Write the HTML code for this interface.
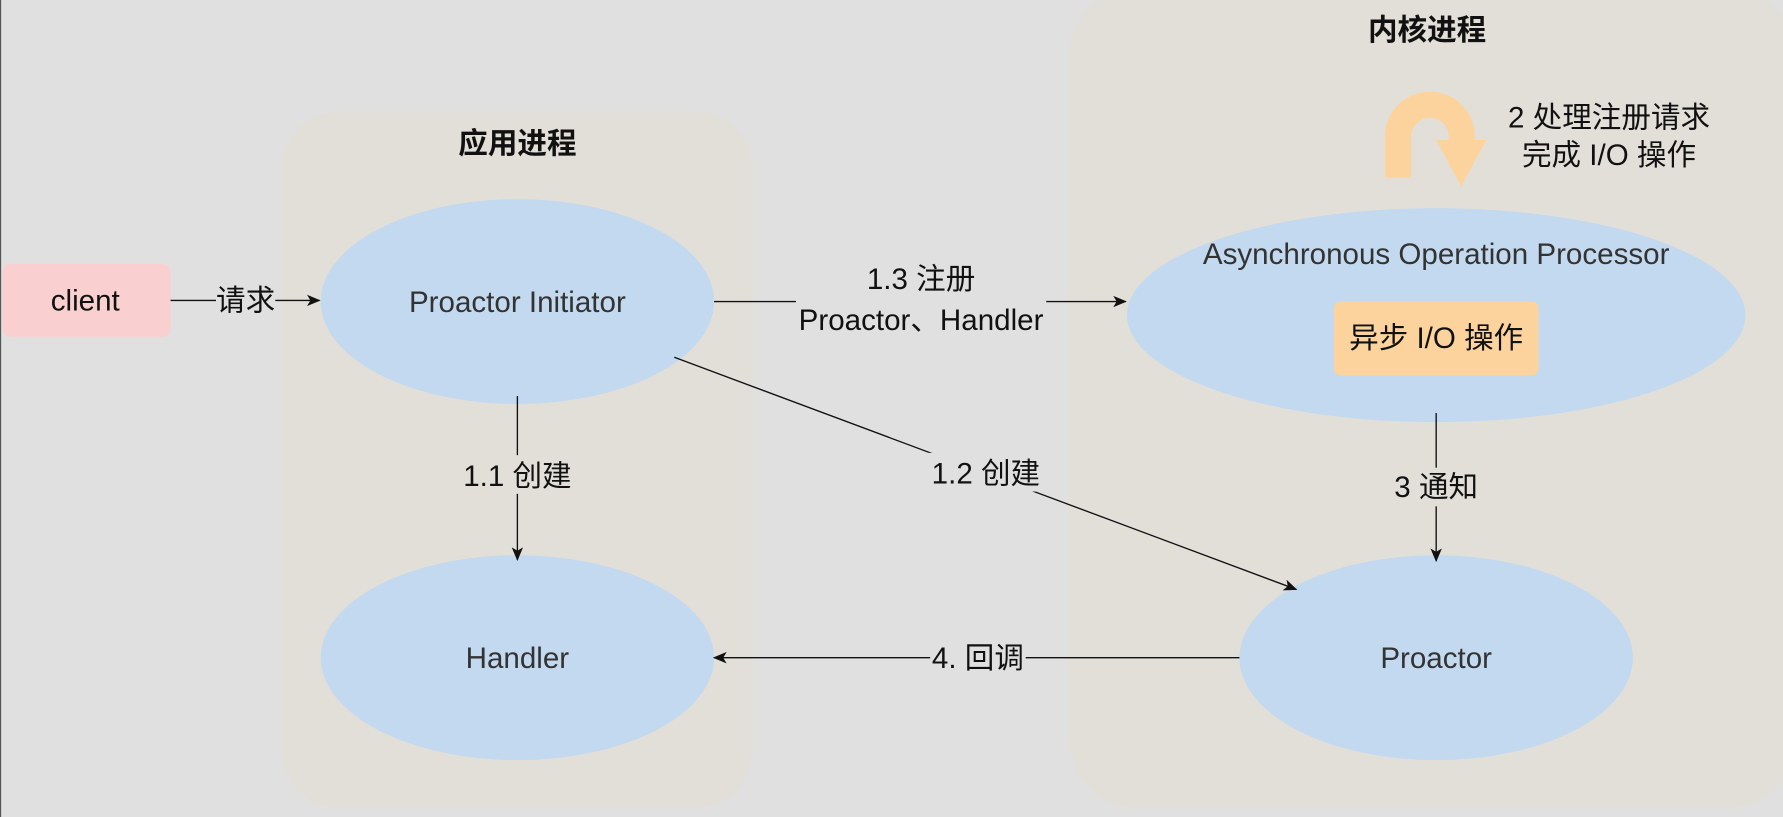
<!DOCTYPE html>
<html><head><meta charset="utf-8"><style>
html,body{margin:0;padding:0;background:#e0e0e0;}
svg{display:block;}
text{font-family:"Liberation Sans","Noto Sans CJK SC",sans-serif;}
</style></head><body>
<svg width="1783" height="817" viewBox="0 0 1568 718" preserveAspectRatio="none" xmlns="http://www.w3.org/2000/svg">
<defs>
<marker id="a" markerWidth="12" markerHeight="10" refX="11" refY="5" orient="auto" markerUnits="userSpaceOnUse">
<path d="M0,0 L12,5 L0,10 L3,5 Z" fill="#111"/></marker>
</defs>
<rect width="1568" height="718" fill="#e0e0e0"/>
<line x1="0.5" y1="0" x2="0.5" y2="718" stroke="#555" stroke-width="1"/>
<rect x="248" y="98" width="414" height="612" rx="50" fill="#e2dfd8"/>
<rect x="940" y="-10" width="640" height="720" rx="60" fill="#e2dfd8"/>
<text x="455" y="135" font-size="26" font-weight="bold" text-anchor="middle" fill="#111">应用进程</text>
<text x="1255" y="35" font-size="26" font-weight="bold" text-anchor="middle" fill="#111">内核进程</text>

<rect x="2" y="232" width="148" height="64" rx="7" fill="#f9cfcf"/>
<text x="75" y="273" font-size="26" text-anchor="middle" fill="#111">client</text>

<ellipse cx="455" cy="265" rx="173" ry="90" fill="#c3d9ef"/>
<text x="455" y="274" font-size="26" text-anchor="middle" fill="#333">Proactor Initiator</text>
<ellipse cx="455" cy="578" rx="173" ry="90" fill="#c3d9ef"/>
<text x="455" y="587" font-size="26" text-anchor="middle" fill="#333">Handler</text>
<ellipse cx="1263" cy="277" rx="272" ry="94" fill="#c3d9ef"/>
<text x="1263" y="232" font-size="26" text-anchor="middle" fill="#333">Asynchronous Operation Processor</text>
<rect x="1173" y="265" width="180" height="65" rx="6" fill="#fdd39d"/>
<text x="1263" y="306" font-size="26" text-anchor="middle" fill="#111">异步 I/O 操作</text>
<ellipse cx="1263" cy="578" rx="173" ry="90" fill="#c3d9ef"/>
<text x="1263" y="587" font-size="26" text-anchor="middle" fill="#333">Proactor</text>

<path d="M1218,156 L1218,120 A39.5,39.5 0 0 1 1297,120 L1297,123 L1307,123 L1285,164 L1263,123 L1274,123 L1274,120 A16.5,16.5 0 0 0 1241,120 L1241,156 Z" fill="#fdd39d"/>
<text x="1415" y="112" font-size="26" text-anchor="middle" fill="#111">2 处理注册请求</text>
<text x="1415" y="145" font-size="26" text-anchor="middle" fill="#111">完成 I/O 操作</text>

<g stroke="#111" stroke-width="1.2" fill="none">
<line x1="150" y1="264" x2="190" y2="264"/>
<line x1="242" y1="264" x2="281" y2="264" marker-end="url(#a)"/>
<line x1="628" y1="265" x2="700" y2="265"/>
<line x1="920" y1="265" x2="990" y2="265" marker-end="url(#a)"/>
<line x1="455" y1="348" x2="455" y2="492" marker-end="url(#a)"/>
<line x1="593" y1="314" x2="1140" y2="518" marker-end="url(#a)"/>
<line x1="1263" y1="363" x2="1263" y2="493" marker-end="url(#a)"/>
<line x1="1090" y1="578" x2="628" y2="578" marker-end="url(#a)"/>
</g>
<rect x="190" y="250" width="52" height="30" fill="#e0e0e0"/>
<text x="216" y="273" font-size="26" text-anchor="middle" fill="#111">请求</text>
<rect x="700" y="226" width="220" height="70" fill="#e0e0e0"/>
<text x="810" y="254" font-size="26" text-anchor="middle" fill="#111">1.3 注册</text>
<text x="810" y="290" font-size="26" text-anchor="middle" fill="#111">Proactor、Handler</text>
<rect x="405" y="400" width="100" height="34" fill="#e2dfd8"/>
<text x="455" y="427" font-size="26" text-anchor="middle" fill="#111">1.1 创建</text>
<rect x="815" y="398" width="104" height="34" fill="#e0e0e0"/>
<text x="867" y="425" font-size="26" text-anchor="middle" fill="#111">1.2 创建</text>
<rect x="1224" y="411" width="78" height="34" fill="#e2dfd8"/>
<text x="1263" y="437" font-size="26" text-anchor="middle" fill="#111">3 通知</text>
<rect x="818" y="561" width="84" height="34" fill="#e0e0e0"/>
<text x="860" y="587" font-size="26" text-anchor="middle" fill="#111">4. 回调</text>
</svg>
</body></html>
